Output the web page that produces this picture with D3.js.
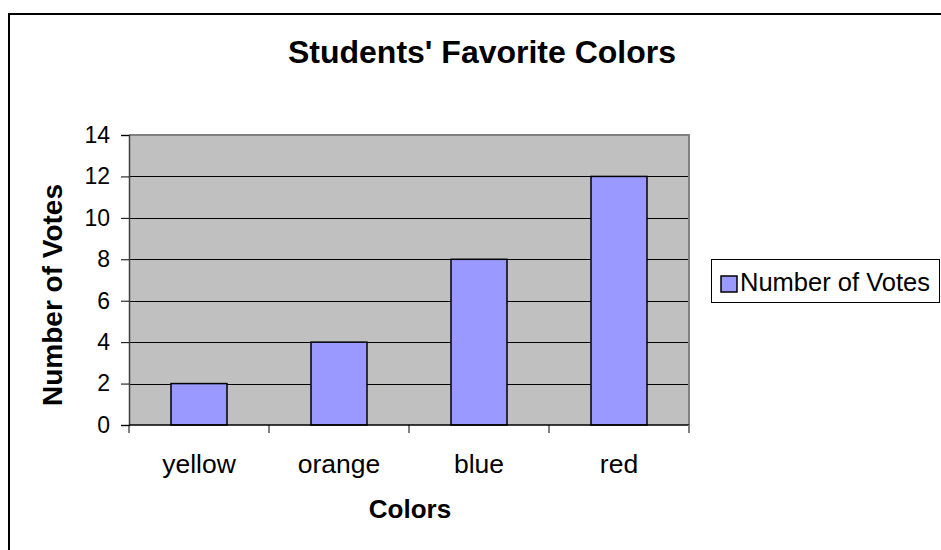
<!DOCTYPE html>
<html>
<head>
<meta charset="utf-8">
<script src="https://cdn.jsdelivr.net/npm/d3@7"></script>
<style>
    body { margin: 0; background: #ffffff; }
    svg text { font-family: "Liberation Sans", Arial, sans-serif; fill: #000000; }
</style>
</head>
<body>
<div id="chart"></div>
<script>

//Chart data
let colors = ["yellow", "orange", "blue", "red"];
let votes = [2, 4, 8, 12];
let yTicks = [0, 2, 4, 6, 8, 10, 12, 14];
let seriesName = "Number of Votes";

class VoteChart {

    constructor (categories, values)
    {
        this.categories = categories;
        this.values = values;

        //Plot area inside the chart frame
        this.plot = {left: 129, top: 135, right: 689, bottom: 425};

        //Adds svg to the div
        this.svg = d3.select("#chart").append("svg")
            .attr("width", 941)
            .attr("height", 550);

        //Outer chart border (runs off the right and bottom edge)
        this.svg.append("rect")
            .attr("x", 9)
            .attr("y", 14)
            .attr("width", 960)
            .attr("height", 560)
            .attr("fill", "white")
            .attr("stroke", "black")
            .attr("stroke-width", 2);
    };

    create ()
    {
        let p = this.plot;

        // Scales
        let xScale = d3.scaleBand()
            .domain(this.categories)
            .range([p.left, p.right])
            .paddingInner(0.6)
            .paddingOuter(0.3);
        let bandScale = d3.scaleBand()
            .domain(this.categories)
            .range([p.left, p.right]);
        let yScale = d3.scaleLinear()
            .domain([0, 14])
            .range([p.bottom, p.top]);

        //Gray plot background
        this.svg.append("rect")
            .attr("x", p.left)
            .attr("y", p.top)
            .attr("width", p.right - p.left)
            .attr("height", p.bottom - p.top)
            .attr("fill", "#c0c0c0");

        //Gridlines
        this.svg.append("g")
            .selectAll("line")
            .data(yTicks.filter(d => d > 0 && d < 14))
            .enter().append("line")
            .attr("x1", p.left)
            .attr("x2", p.right)
            .attr("y1", d => Math.round(yScale(d)) + 0.5)
            .attr("y2", d => Math.round(yScale(d)) + 0.5)
            .attr("stroke", "black")
            .attr("stroke-width", 1);

        //Plot border top and right
        this.svg.append("path")
            .attr("d", "M" + p.left + "," + p.top + "H" + p.right + "V" + p.bottom)
            .attr("fill", "none")
            .attr("stroke", "#808080")
            .attr("stroke-width", 2);

        //Bars
        this.svg.append("g")
            .selectAll("rect")
            .data(this.values)
            .enter().append("rect")
            .attr("x", (d, i) => xScale(this.categories[i]))
            .attr("y", d => yScale(d))
            .attr("width", xScale.bandwidth())
            .attr("height", d => yScale(0) - yScale(d))
            .attr("fill", "#9999ff")
            .attr("stroke", "black")
            .attr("stroke-width", 1.5);

        //Y axis
        let yAxis = d3.axisLeft(yScale)
            .tickValues(yTicks)
            .tickSize(8)
            .tickPadding(11);
        let yG = this.svg.append("g")
            .attr("transform", "translate(" + p.left + ",0)")
            .call(yAxis);
        yG.select(".domain").attr("stroke", "#404040").attr("stroke-width", 1.5);
        yG.selectAll(".tick line").attr("stroke", "black");
        yG.selectAll("text")
            .attr("font-size", 23)
            .attr("font-family", "Liberation Sans, Arial, sans-serif");

        //X axis line and ticks at category boundaries
        this.svg.append("line")
            .attr("x1", p.left)
            .attr("x2", p.right)
            .attr("y1", p.bottom)
            .attr("y2", p.bottom)
            .attr("stroke", "black")
            .attr("stroke-width", 1.5);
        let bounds = this.categories.map(c => bandScale(c)).concat([p.right]);
        this.svg.append("g")
            .selectAll("line")
            .data(bounds)
            .enter().append("line")
            .attr("x1", d => d)
            .attr("x2", d => d)
            .attr("y1", p.bottom)
            .attr("y2", p.bottom + 8)
            .attr("stroke", d => d === p.right ? "#808080" : "black")
            .attr("stroke-width", d => d === p.right ? 2 : 1);

        //Category labels
        this.svg.append("g")
            .selectAll("text")
            .data(this.categories)
            .enter().append("text")
            .attr("x", d => bandScale(d) + bandScale.bandwidth() / 2)
            .attr("y", 473)
            .attr("text-anchor", "middle")
            .attr("font-size", 26.5)
            .text(d => d);

        /////// Titles
        this.svg.append("text")
            .attr("x", 482)
            .attr("y", 63)
            .attr("text-anchor", "middle")
            .attr("font-size", 32)
            .attr("font-weight", "bold")
            .text("Students' Favorite Colors");

        this.svg.append("text")
            .attr("x", 410)
            .attr("y", 518)
            .attr("text-anchor", "middle")
            .attr("font-size", 26)
            .attr("font-weight", "bold")
            .text("Colors");

        this.svg.append("text")
            .attr("transform", "translate(62,295) rotate(-90)")
            .attr("text-anchor", "middle")
            .attr("font-size", 28)
            .attr("font-weight", "bold")
            .text("Number of Votes");

        /////// Legend
        let legend = this.svg.append("g");
        legend.append("rect")
            .attr("x", 711.5)
            .attr("y", 259.5)
            .attr("width", 228)
            .attr("height", 43)
            .attr("fill", "white")
            .attr("stroke", "black")
            .attr("stroke-width", 1);
        legend.append("rect")
            .attr("x", 721)
            .attr("y", 276)
            .attr("width", 16)
            .attr("height", 16)
            .attr("fill", "#9999ff")
            .attr("stroke", "black")
            .attr("stroke-width", 1.5);
        legend.append("text")
            .attr("x", 740)
            .attr("y", 291)
            .attr("font-size", 25.5)
            .text(seriesName);
    };
}

let chart = new VoteChart(colors, votes);
chart.create();
</script>
</body>
</html>
